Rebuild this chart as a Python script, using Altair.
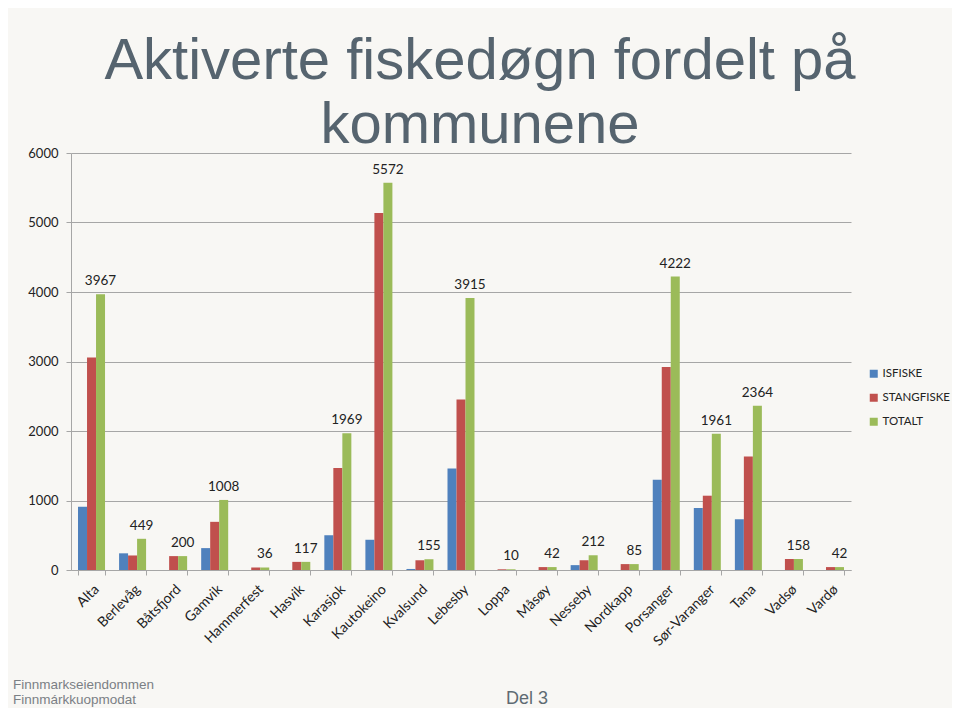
import altair as alt
import pandas as pd

kommuner = ["Alta", "Berlevåg", "Båtsfjord", "Gamvik", "Hammerfest", "Hasvik",
            "Karasjok", "Kautokeino", "Kvalsund", "Lebesby", "Loppa", "Måsøy",
            "Nesseby", "Nordkapp", "Porsanger", "Sør-Varanger", "Tana", "Vadsø", "Vardø"]
isfiske = [910, 240, 0, 315, 0, 0, 500, 435, 15, 1460, 0, 0, 70, 0, 1300, 892, 730, 0, 0]
stangfiske = [3057, 209, 200, 693, 36, 117, 1469, 5137, 140, 2455, 10, 42, 142, 85, 2922, 1069, 1634, 158, 42]
totalt = [3967, 449, 200, 1008, 36, 117, 1969, 5572, 155, 3915, 10, 42, 212, 85, 4222, 1961, 2364, 158, 42]
serier = ["ISFISKE", "STANGFISKE", "TOTALT"]
farger = ["#4f81bd", "#c0504d", "#9bbb59"]
y_ticks = [0, 1000, 2000, 3000, 4000, 5000, 6000]

rows = []
for serie, vals in zip(serier, [isfiske, stangfiske, totalt]):
    for k, v in zip(kommuner, vals):
        rows.append({"kommune": k, "serie": serie, "verdi": v})
df = pd.DataFrame(rows)
df_tot = df[df["serie"] == "TOTALT"]

GRID = "#a6a6a6"
LABEL_FONT = "Lato"

x_enc = alt.X("kommune:N", sort=kommuner,
              scale=alt.Scale(type="band", paddingInner=0.342, paddingOuter=0.171),
              axis=alt.Axis(title=None, labelAngle=-45, tickBand="extent", tickSize=5,
                            tickColor=GRID, domainColor=GRID, labelFont=LABEL_FONT,
                            labelFontSize=14, labelColor="#222222", labelPadding=7,
                            grid=False))
xo_enc = alt.XOffset("serie:N", sort=serier,
                     scale=alt.Scale(type="band", domain=serier, paddingInner=0, paddingOuter=0))
y_enc = alt.Y("verdi:Q", scale=alt.Scale(domain=[0, 6000], nice=False),
              axis=alt.Axis(title=None, values=y_ticks, format="d", tickSize=5,
                            tickColor=GRID, domainColor=GRID, gridColor=GRID,
                            labelFont=LABEL_FONT, labelFontSize=13, labelColor="#222222",
                            labelPadding=8))

bars = alt.Chart(df).mark_bar().encode(
    x=x_enc, xOffset=xo_enc, y=y_enc,
    color=alt.Color("serie:N", sort=serier,
                    scale=alt.Scale(domain=serier, range=farger),
                    legend=alt.Legend(title=None, orient="none", legendX=797, legendY=215,
                                      symbolType="square", symbolSize=64,
                                      symbolStrokeWidth=0, labelFont=LABEL_FONT,
                                      labelFontSize=11.5, labelColor="#222222",
                                      rowPadding=11, labelOffset=3)),
)

labels = alt.Chart(df_tot).mark_text(
    baseline="middle", dy=-13, font=LABEL_FONT, fontSize=13.5, color="#222222"
).encode(x=x_enc, xOffset=xo_enc, y=y_enc, text=alt.Text("verdi:Q", format="d"))

footer = alt.Chart(pd.DataFrame({"t": ["Del 3"]})).mark_text(
    align="center", baseline="alphabetic", font="Liberation Sans", fontSize=18,
    color="#5f6b73"
).encode(x=alt.value(456), y=alt.value(551), text="t:N")

logo = alt.Chart(pd.DataFrame({"t": ["Finnmarkseiendommen\nFinnmárkkuopmodat"]})).mark_text(
    align="left", baseline="alphabetic", font="Liberation Sans", fontSize=13.5,
    color="#7b8085", lineBreak="\n", lineHeight=15
).encode(x=alt.value(-58), y=alt.value(536), text="t:N")

chart = alt.layer(bars, labels, footer, logo).properties(
    width=780, height=417,
    title=alt.TitleParams(text=["Aktiverte fiskedøgn fordelt på", "kommunene"],
                          font="Liberation Sans", fontSize=58, fontWeight="normal",
                          color="#56646f", lineHeight=64, anchor="middle",
                          frame="group", dx=19, dy=8, offset=0),
    autosize=alt.AutoSizeParams(type="none"),
    padding={"left": 63, "top": 145, "right": 101, "bottom": 138},
    background="#f8f7f4",
).configure_view(stroke=None)

chart.save("out.html", embed_options={"renderer": "svg", "actions": False})
